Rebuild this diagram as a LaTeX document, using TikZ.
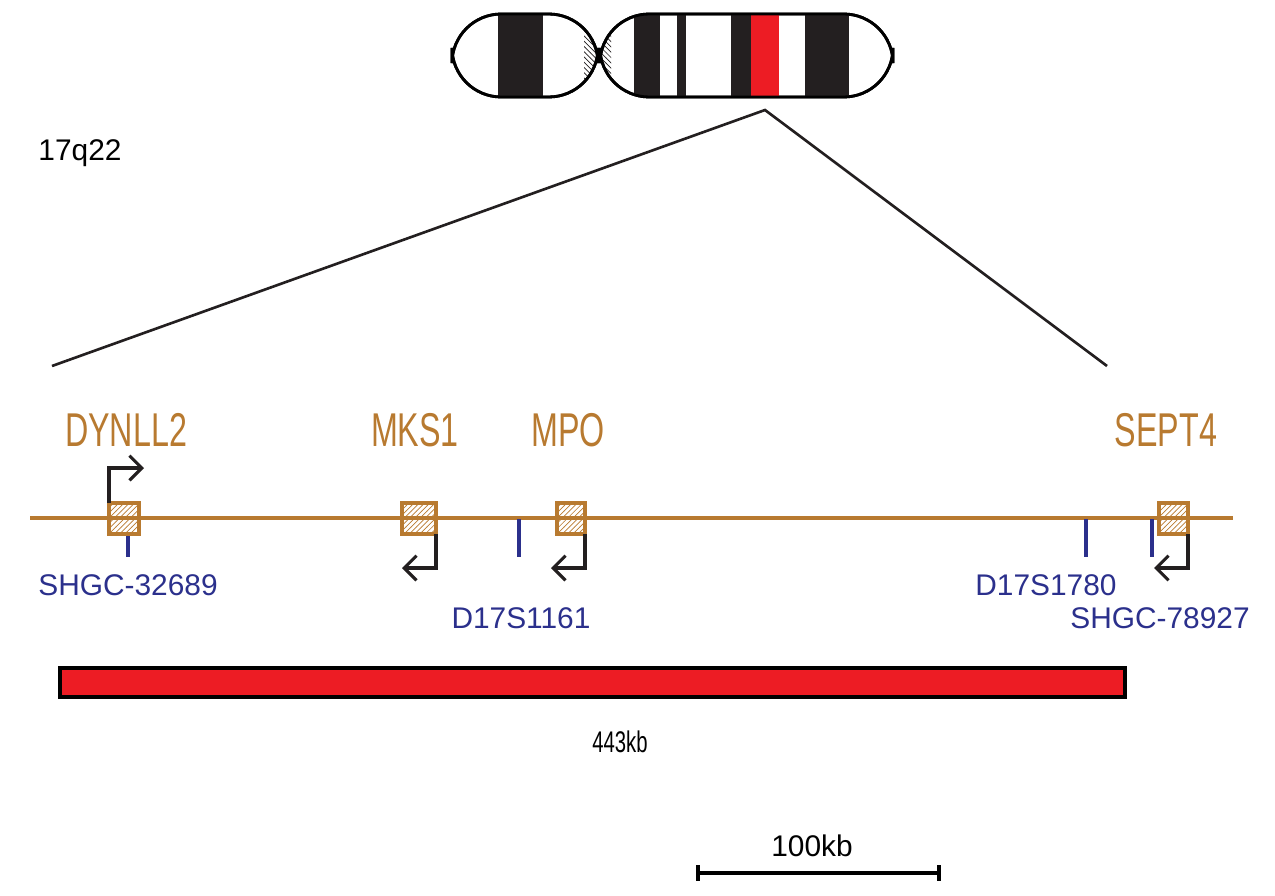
\documentclass[tikz,border=0pt]{standalone}
\usepackage{fontspec}
\setmainfont{Liberation Sans}
\usetikzlibrary{patterns}
\definecolor{genebrown}{RGB}{184,122,48}
\definecolor{markblue}{RGB}{43,48,140}
\definecolor{bandred}{RGB}{237,28,36}
\definecolor{bandblack}{RGB}{35,31,32}
\tikzset{
	gene/.style={draw=genebrown, line width=2.2pt, pattern=north east lines, pattern color=genebrown},
	genelabel/.style={text=genebrown, font=\fontsize{27}{27}\selectfont},
	marker/.style={draw=markblue, line width=2pt},
	markerlabel/.style={text=markblue, font=\fontsize{17}{17}\selectfont},
	promoter/.style={draw=bandblack, line width=1.8pt, -{Straight Barb[length=7pt,width=14pt]}}
}
\usetikzlibrary{arrows.meta}
\begin{document}
\begin{tikzpicture}[x=0.02cm,y=-0.02cm]
		\useasboundingbox (0,0) rectangle (1275,896);
		
		% chromosome
		\draw[line width=1.6pt, fill=white, rounded corners=28] (452,14) rectangle (598,97);
		\draw[line width=1.6pt, fill=white, rounded corners=28] (600,14) rectangle (893,97);
		\begin{scope}
			\clip[rounded corners=28] (452,14) rectangle (598,97);
			\fill[bandblack] (498,14) rectangle (543,97);
			\fill[pattern=north west lines, pattern color=bandblack] (584,14) rectangle (598,97);
		\end{scope}
		\begin{scope}
			\clip[rounded corners=28] (600,14) rectangle (893,97);
			\fill[pattern=north west lines, pattern color=bandblack] (600,14) rectangle (611,97);
			\foreach \a/\b in {634/660, 677/686, 731/751, 805/849}
				\fill[bandblack] (\a,14) rectangle (\b,97);
			\fill[bandred] (751,14) rectangle (779,97);
		\end{scope}
		\draw[line width=1.6pt, rounded corners=28] (452,14) rectangle (598,97);
		\draw[line width=1.6pt, rounded corners=28] (600,14) rectangle (893,97);
		
		\node (band) at (80,153) {\fontsize{17}{17}\selectfont 17q22};
		
		% zoom lines
		\coordinate (apex) at (765,110);
		\coordinate (zl) at (52,366);
		\coordinate (zr) at (1107,366);
		\draw[line width=1.5pt, bandblack] (zl) -- (apex) -- (zr);
		
		% locus
		\coordinate (lstart) at (30,518);
		\coordinate (lend) at (1233,518);
		\draw[genebrown, line width=2.2pt] (lstart) -- (lend);
		
		\foreach \m/\x in {mA/128, mB/519, mC/1086, mD/1152}
			\coordinate (\m) at (\x,557);
		\draw[marker] (128,535) -- (mA);
		\draw[marker] (519,519) -- (mB);
		\draw[marker] (1086,519) -- (mC);
		\draw[marker] (1152,519) -- (mD);
		
		\foreach \g/\a/\b in {dynll/109/139, mks/402/436, mpo/557/585, sept/1159/1188}
			\draw[gene] (\a,503) rectangle (\b,534) coordinate (\g);
		
		\draw[promoter] (109,503) -- (109,468) -- (144,468);
		\draw[promoter] (436,534) -- (436,568) -- (402,568);
		\draw[promoter] (585,534) -- (585,568) -- (551,568);
		\draw[promoter] (1188,534) -- (1188,568) -- (1154,568);
		
		\node[genelabel] (gdynll) at (126,430) {\scalebox{0.68}[1]{DYNLL2}};
		\node[genelabel] (gmks) at (415,430) {\scalebox{0.68}[1]{MKS1}};
		\node[genelabel] (gmpo) at (568,430) {\scalebox{0.68}[1]{MPO}};
		\node[genelabel] (gsept) at (1166,430) {\scalebox{0.68}[1]{SEPT4}};
		
		\node[markerlabel] (lA) at (128,585) {SHGC-32689};
		\node[markerlabel] (lB) at (521,618) {D17S1161};
		\node[markerlabel] (lC) at (1046,585) {D17S1780};
		\node[markerlabel] (lD) at (1160,618) {SHGC-78927};
		
		% deleted region
		\draw[line width=2.5pt, fill=bandred] (60,668) rectangle (1125,697);
		\node (del) at (620,742) {\fontsize{17}{17}\selectfont\scalebox{0.68}[1]{443kb}};
		
		% scale bar
		\coordinate (sbl) at (698,873);
		\coordinate (sbr) at (939,873);
		\draw[line width=1.8pt] (sbl) -- (sbr);
		\draw[line width=1.8pt] (698,865) -- (698,881);
		\draw[line width=1.8pt] (939,865) -- (939,881);
		\node (sb) at (812,846) {\fontsize{17}{17}\selectfont 100kb};
\end{tikzpicture}
\end{document}
